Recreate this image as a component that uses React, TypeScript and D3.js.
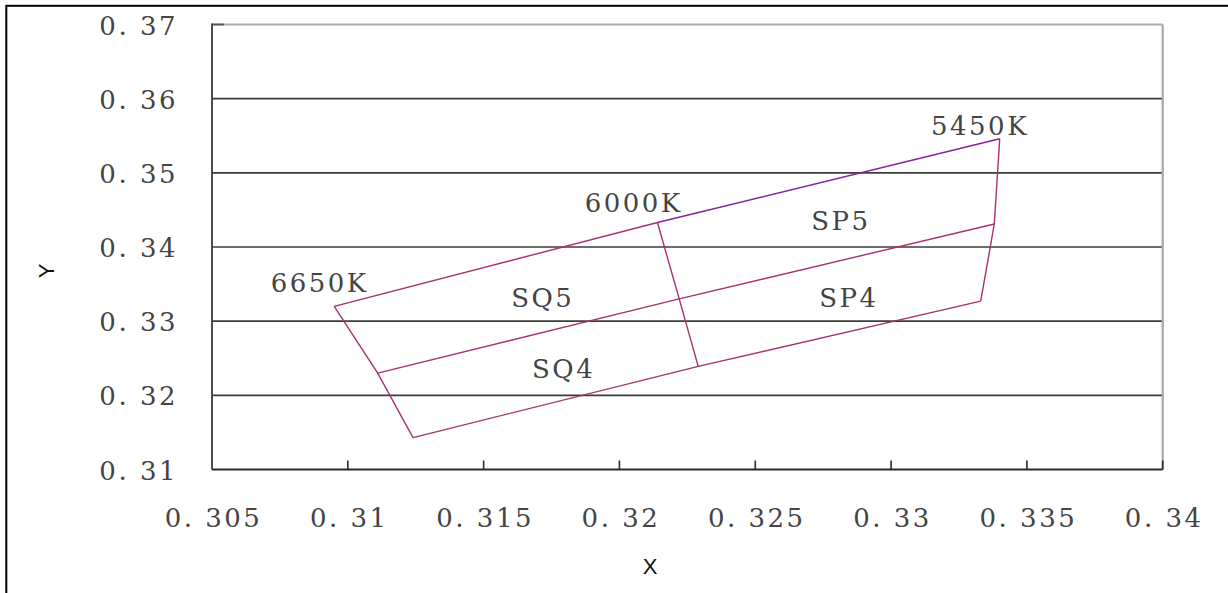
import React from "react";
import * as d3 from "d3";

const W = 1228;
const H = 593;

const xTicks = [0.305, 0.31, 0.315, 0.32, 0.325, 0.33, 0.335, 0.34];
const yTicks = [0.31, 0.32, 0.33, 0.34, 0.35, 0.36, 0.37];

// Bin boundary polylines [x, y]
const topEdgeLeft: [number, number][] = [
  [0.3095, 0.332],
  [0.3214, 0.3433],
];
const topEdgeRight: [number, number][] = [
  [0.3214, 0.3433],
  [0.334, 0.3546],
];
const middleEdge: [number, number][] = [
  [0.3111, 0.323],
  [0.3222, 0.333],
  [0.3338, 0.3431],
];
const bottomEdge: [number, number][] = [
  [0.3124, 0.3143],
  [0.3229, 0.3239],
  [0.3333, 0.3327],
];
const leftEdge: [number, number][] = [
  [0.3095, 0.332],
  [0.3111, 0.323],
  [0.3124, 0.3143],
];
const centerEdge: [number, number][] = [
  [0.3214, 0.3433],
  [0.3222, 0.333],
  [0.3229, 0.3239],
];
const rightEdge: [number, number][] = [
  [0.334, 0.3546],
  [0.3338, 0.3431],
  [0.3333, 0.3327],
];

const labelTexts = ["6650K", "6000K", "5450K", "SQ5", "SQ4", "SP5", "SP4"];
const labelX = [0.30891, 0.32047, 0.33322, 0.31712, 0.31789, 0.3281, 0.32839];
const labelY = [0.33393, 0.34472, 0.3551, 0.33191, 0.32234, 0.34229, 0.33191];

const fmt = (v: number) => {
  const s = String(+v.toFixed(3));
  return s.replace(".", ". ");
};

export default function App() {
  const left = 212;
  const right = 1162.7;
  const top = 24.5;
  const bottom = 469.5;
  const x = d3.scaleLinear().domain([0.305, 0.34]).range([left, right]);
  const y = d3.scaleLinear().domain([0.31, 0.37]).range([bottom, top]);
  const line = d3
    .line<[number, number]>()
    .x((d) => x(d[0]))
    .y((d) => y(d[1]));

  const magenta = "#a8306e";
  const violet = "#8a1fa0";
  const serif = "'DejaVu Serif', 'Liberation Serif', serif";

  const lines = [topEdgeLeft, middleEdge, bottomEdge, leftEdge, centerEdge, rightEdge];

  return (
    <svg
      width={W}
      height={H}
      style={{ position: "absolute", left: 0, top: 0, background: "#fff" }}
    >
      <rect x={0} y={0} width={W} height={H} fill="#fff" />
      {/* outer frame */}
      <rect x={6.3} y={5.8} width={W + 20} height={H + 20} fill="none" stroke="#000" strokeWidth={2} />

      {/* gridlines */}
      {yTicks.slice(1, -1).map((t) => (
        <line key={t} x1={left} x2={right} y1={y(t)} y2={y(t)} stroke="#3c3c3c" strokeWidth={1.6} />
      ))}
      {/* top border */}
      <line x1={left} x2={right} y1={top} y2={top} stroke="#ababab" strokeWidth={1.8} />
      <line x1={left} x2={left + 12} y1={top} y2={top} stroke="#555" strokeWidth={1.8} />
      {/* right border */}
      <line x1={right} x2={right} y1={top} y2={bottom} stroke="#a8a8a8" strokeWidth={2.2} />
      {/* left axis */}
      <line x1={left} x2={left} y1={top - 0.9} y2={bottom} stroke="#3a3a3a" strokeWidth={1.8} />
      {/* bottom axis */}
      <line x1={left} x2={right} y1={bottom} y2={bottom} stroke="#2a2a2a" strokeWidth={1.8} />
      {xTicks.slice(1).map((t) => (
        <line key={t} x1={x(t)} x2={x(t)} y1={bottom} y2={bottom - 9} stroke="#2a2a2a" strokeWidth={1.6} />
      ))}

      {/* y tick labels */}
      {yTicks.map((t) => (
        <text
          key={t}
          x={178}
          y={y(t) + 10}
          textAnchor="end"
          fontFamily={serif}
          fontSize={26}
          letterSpacing={2.5}
          fill="#444"
        >
          {fmt(t)}
        </text>
      ))}
      {/* x tick labels */}
      {xTicks.map((t) => (
        <text
          key={t}
          x={x(t) + 1.5}
          y={527}
          textAnchor="middle"
          fontFamily={serif}
          fontSize={26}
          letterSpacing={2.5}
          fill="#444"
        >
          {fmt(t)}
        </text>
      ))}

      {/* bin lines */}
      {lines.map((l, i) => (
        <path key={i} d={line(l) || ""} fill="none" stroke={magenta} strokeWidth={1.4} />
      ))}
      <path d={line(topEdgeRight) || ""} fill="none" stroke={violet} strokeWidth={1.5} />

      {/* region labels */}
      {labelTexts.map((s, i) => (
        <text
          key={s}
          x={x(labelX[i]) + 1.5}
          y={y(labelY[i])}
          textAnchor="middle"
          fontFamily={serif}
          fontSize={26}
          letterSpacing={2.5}
          fill="#444"
        >
          {s}
        </text>
      ))}

      {/* axis titles */}
      <text x={650} y={574} textAnchor="middle" fontFamily="'Liberation Sans', Arial, sans-serif" fontSize={22} fill="#111">
        X
      </text>
      <text
        transform="translate(54,271) rotate(-90)"
        textAnchor="middle"
        fontFamily="'Liberation Sans', Arial, sans-serif"
        fontSize={22}
        fill="#111"
      >
        Y
      </text>
    </svg>
  );
}
